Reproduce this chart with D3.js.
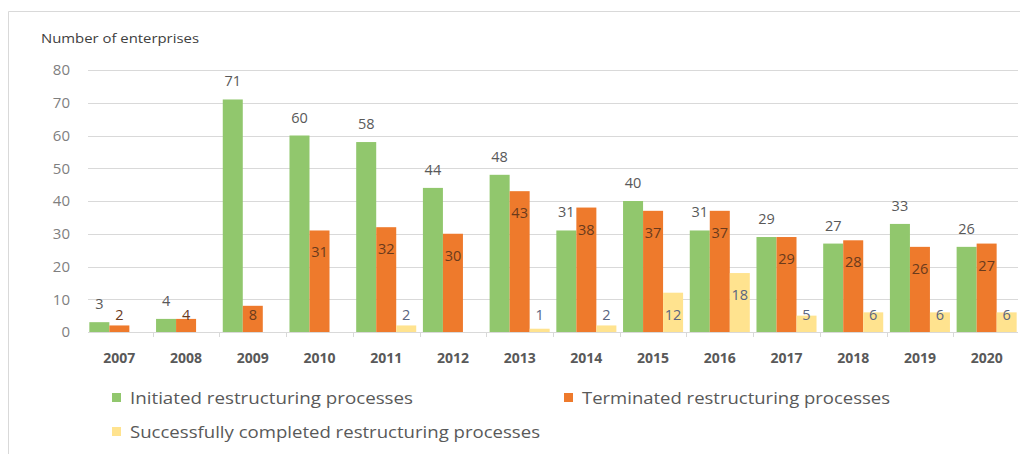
<!DOCTYPE html>
<html><head><meta charset="utf-8">
<script src="https://cdn.jsdelivr.net/npm/d3@7"></script>
<style>body{margin:0;background:#fff}svg{display:block}text{font-family:"Open Sans",sans-serif}</style>
</head><body>
<svg id="c" width="1030" height="454"></svg>
<script>
const years = ["2007","2008","2009","2010","2011","2012","2013","2014","2015","2016","2017","2018","2019","2020"];
const initiated = [3,4,71,60,58,44,48,31,40,31,29,27,33,26];
const terminated = [2,4,8,31,32,30,43,38,37,37,29,28,26,27];
const completed = [0,0,0,0,2,0,1,2,12,18,5,6,6,6];
const seriesNames = ["Initiated restructuring processes","Terminated restructuring processes","Successfully completed restructuring processes"];
const yTicks = [0,10,20,30,40,50,60,70,80];
const axisTitle = "Number of enterprises";

const colors = ["#91c76d","#ee7a2c","#ffe38f"];
const labelColors = ["#595959","#6a3a1c","#5a6580"];
const series = [initiated, terminated, completed];
const FONT = "'Open Sans',sans-serif";

const svg = d3.select("#c");
// frame
svg.append("line").attr("x1",8.5).attr("x2",1020).attr("y1",11.5).attr("y2",11.5).attr("stroke","#d9d9d9");
svg.append("line").attr("x1",8.5).attr("x2",8.5).attr("y1",11.5).attr("y2",454).attr("stroke","#d9d9d9");

const y = d3.scaleLinear().domain([0,80]).range([332,70]);
const x0 = d3.scaleBand().domain(years).range([86,1020]).paddingInner(0.1).paddingOuter(0.05);
const x1 = d3.scaleBand().domain([0,1,2]).range([0,x0.bandwidth()]);

// gridlines
svg.append("g").selectAll("line").data(yTicks.filter(d=>d>0)).join("line")
  .attr("x1",88).attr("x2",1018).attr("y1",d=>Math.round(y(d))+0.5).attr("y2",d=>Math.round(y(d))+0.5)
  .attr("stroke","#d9d9d9");

// y axis labels
const yAxis = d3.axisLeft(y).tickValues(yTicks).tickSize(0).tickPadding(0);
const gy = svg.append("g").attr("transform","translate(70,0)").call(yAxis);
gy.select(".domain").remove();
gy.selectAll("text").attr("fill","#7f7f7f").style("font-size","15px").style("font-family",FONT);

svg.append("text").attr("x",41).attr("y",43).attr("fill","#404040").style("font-size","12.5px")
  .attr("textLength",158).attr("lengthAdjust","spacingAndGlyphs").text(axisTitle);

// bars
series.forEach((vals,si)=>{
  svg.append("g").selectAll("rect").data(years.map((yr,i)=>({yr,v:vals[i]}))).join("rect")
    .attr("x",d=>x0(d.yr)+x1(si))
    .attr("width",x1.bandwidth())
    .attr("y",d=>y(d.v))
    .attr("height",d=>y(0)-y(d.v))
    .attr("fill",colors[si]);
});

// x axis
const xAxis = d3.axisBottom(x0).tickSize(0).tickPadding(0);
const gx = svg.append("g").attr("transform",`translate(0,${y(0)})`).call(xAxis);
gx.select(".domain").attr("stroke","#d9d9d9").attr("d",`M88,0.5H1018`);
gx.selectAll("text").attr("dy","0").attr("y",31).attr("fill","#595959")
  .style("font-size","14px").style("font-weight","bold").style("font-family",FONT);
// category separators
svg.append("g").selectAll("line").data(years.slice(1)).join("line")
  .attr("x1",d=>Math.round(x0(d)-x0.step()*x0.paddingInner()/2)+0.5)
  .attr("x2",d=>Math.round(x0(d)-x0.step()*x0.paddingInner()/2)+0.5)
  .attr("y1",y(0)).attr("y2",y(0)+5).attr("stroke","#d9d9d9");

// labels
svg.append("g").selectAll("text").data(years.map((yr,i)=>({yr,v:initiated[i]}))).join("text")
  .attr("x",d=>x0(d.yr)+x1(0)+x1.bandwidth()/2).attr("y",d=>y(d.v)-13)
  .attr("text-anchor","middle").attr("fill",labelColors[0]).style("font-size","14.5px").text(d=>d.v);
[1,2].forEach(si=>{
  svg.append("g").selectAll("text").data(years.map((yr,i)=>({yr,v:series[si][i]})).filter(d=>d.v>0)).join("text")
    .attr("x",d=>x0(d.yr)+x1(si)+x1.bandwidth()/2)
    .attr("y",d=>Math.min(y(d.v)+22, y(0)-17)+5)
    .attr("text-anchor","middle").attr("fill",labelColors[si]).style("font-size","14.5px").text(d=>d.v);
});

// legend
const leg = [{i:0,x:112,y:398,w:283},{i:1,x:564,y:398,w:308},{i:2,x:112,y:432,w:410}];
leg.forEach(l=>{
  svg.append("rect").attr("x",l.x).attr("y",l.y-5).attr("width",9).attr("height",9).attr("fill",colors[l.i]);
  svg.append("text").attr("x",l.x+18).attr("y",l.y+6).attr("fill","#595959").style("font-size","16.5px")
    .attr("textLength",l.w).attr("lengthAdjust","spacingAndGlyphs").text(seriesNames[l.i]);
});
</script>
</body></html>
